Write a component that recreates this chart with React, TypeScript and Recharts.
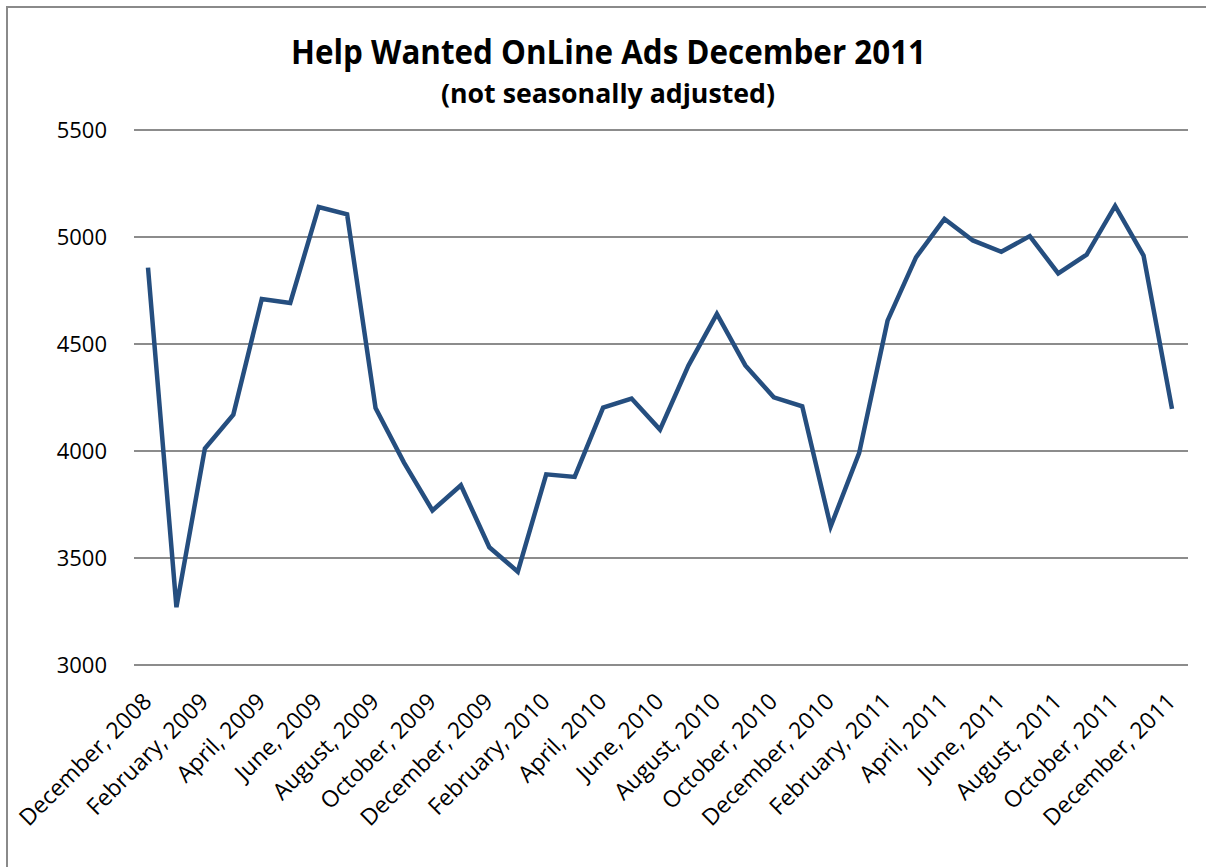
import React from "react";
import { LineChart, Line, XAxis, YAxis, CartesianGrid } from "recharts";

const months: string[] = [
  "December, 2008", "January, 2009", "February, 2009", "March, 2009", "April, 2009",
  "May, 2009", "June, 2009", "July, 2009", "August, 2009", "September, 2009",
  "October, 2009", "November, 2009", "December, 2009", "January, 2010", "February, 2010",
  "March, 2010", "April, 2010", "May, 2010", "June, 2010", "July, 2010",
  "August, 2010", "September, 2010", "October, 2010", "November, 2010", "December, 2010",
  "January, 2011", "February, 2011", "March, 2011", "April, 2011", "May, 2011",
  "June, 2011", "July, 2011", "August, 2011", "September, 2011", "October, 2011",
  "November, 2011", "December, 2011",
];

const ads: number[] = [
  4857, 3270, 4012, 4170, 4710,
  4692, 5140, 5106, 4201, 3946,
  3722, 3840, 3550, 3436, 3891,
  3879, 4203, 4245, 4100, 4399,
  4641, 4400, 4251, 4209, 3647,
  3990, 4609, 4905, 5084, 4984,
  4931, 5004, 4830, 4918, 5145,
  4913, 4197,
];

const yTicks: number[] = [3000, 3500, 4000, 4500, 5000, 5500];

const data = months.map((m, i) => ({ month: m, value: ads[i] }));

const FONT = "'Open Sans', 'Liberation Sans', sans-serif";

const XTick = (props: any) => {
  const { x, y, payload } = props;
  const ax = x + 5;
  const ay = y + 38;
  return (
    <text
      x={ax}
      y={ay}
      textAnchor="end"
      fontFamily={FONT}
      fontSize={23}
      fill="#000"
      transform={`rotate(-45, ${ax}, ${ay})`}
    >
      {payload.value}
    </text>
  );
};

export default function App() {
  return (
    <div
      style={{
        position: "absolute",
        left: 0,
        top: 0,
        width: 1206,
        height: 867,
        overflow: "hidden",
        background: "#fff",
      }}
    >
      <div
        style={{
          position: "absolute",
          left: 6,
          top: 6,
          width: 1300,
          height: 1000,
          borderLeft: "2px solid #8a8a8a",
          borderTop: "2px solid #8a8a8a",
        }}
      />
      <div style={{ position: "absolute", left: 0, top: 0 }}>
        <LineChart
          width={1206}
          height={867}
          data={data}
          margin={{ top: 130, right: 18, bottom: 0, left: 0 }}
        >
          <CartesianGrid vertical={false} stroke="#8c8c8c" strokeWidth={2} />
          <XAxis
            dataKey="month"
            interval={1}
            axisLine={false}
            tickLine={false}
            tickSize={0}
            tickMargin={0}
            height={202}
            padding={{ left: 14, right: 16 }}
            tick={<XTick />}
          />
          <YAxis
            domain={[3000, 5500]}
            ticks={yTicks}
            axisLine={false}
            tickLine={false}
            tickSize={0}
            tickMargin={27}
            width={134}
            tick={{ fontFamily: FONT, fontSize: 22, fill: "#000" }}
          />
          <Line
            type="linear"
            dataKey="value"
            stroke="#254E7F"
            strokeWidth={4.5}
            dot={false}
            isAnimationActive={false}
          />
        </LineChart>
      </div>
      <svg
        width={1206}
        height={130}
        style={{ position: "absolute", left: 0, top: 0 }}
      >
        <text
          x={608.5}
          y={64}
          textAnchor="middle"
          fontFamily={FONT}
          fontWeight="bold"
          fontSize={34}
          textLength={635}
          lengthAdjust="spacingAndGlyphs"
          fill="#000"
        >
          Help Wanted OnLine Ads December 2011
        </text>
        <text
          x={608}
          y={103}
          textAnchor="middle"
          fontFamily={FONT}
          fontWeight="bold"
          fontSize={27}
          textLength={334}
          lengthAdjust="spacingAndGlyphs"
          fill="#000"
        >
          (not seasonally adjusted)
        </text>
      </svg>
    </div>
  );
}
